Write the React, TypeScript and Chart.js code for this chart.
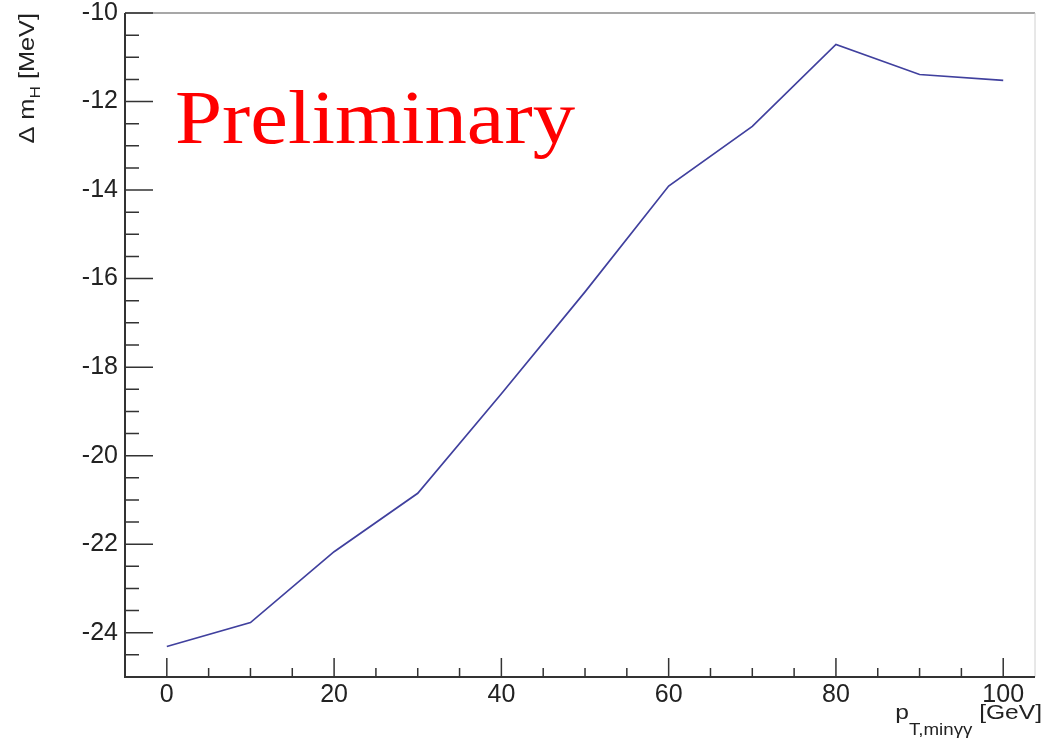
import React, { useEffect, useRef } from "react";
import { Chart, registerables } from "chart.js";

Chart.register(...registerables);

const ptMin = [0, 10, 20, 30, 40, 50, 60, 70, 80, 90, 100];
const deltaMH = [-24.31, -23.77, -22.17, -20.85, -18.6, -16.3, -13.91, -12.56, -10.71, -11.39, -11.52];
const xTickLabels = [0, 20, 40, 60, 80, 100];
const yTickLabels = [-24, -22, -20, -18, -16, -14, -12, -10];
const xMin = -5;
const xMax = 103.8;
const yMin = -25;
const yMax = -10;

const W = 1044;
const H = 738;
const LEFT = 125;
const TOP = 13;
const RIGHT = 1035;
const BOTTOM = 677;

const SANS = "'Liberation Sans', Arial, Helvetica, sans-serif";

function drawRich(
  ctx: CanvasRenderingContext2D,
  parts: { t: string; size: number; dy: number }[],
  stretch: number
) {
  let total = 0;
  const ws: number[] = [];
  for (const p of parts) {
    ctx.font = `${p.size}px ${SANS}`;
    const w = ctx.measureText(p.t).width;
    ws.push(w);
    total += w;
  }
  return {
    total: total * stretch,
    draw: (x0: number, y0: number) => {
      ctx.save();
      ctx.translate(x0, y0);
      ctx.scale(stretch, 1);
      let x = 0;
      parts.forEach((p, i) => {
        ctx.font = `${p.size}px ${SANS}`;
        ctx.fillText(p.t, x, p.dy);
        x += ws[i];
      });
      ctx.restore();
    },
  };
}

const rootPlugin = {
  id: "rootStyle",
  afterDraw(chart: any) {
    const ctx = chart.ctx as CanvasRenderingContext2D;
    const xs = chart.scales.x;
    const ys = chart.scales.y;
    const a = chart.chartArea;
    ctx.save();
    // frame top & right
    ctx.strokeStyle = "#8a8a8a";
    ctx.lineWidth = 1.5;
    ctx.beginPath();
    ctx.moveTo(a.left, a.top);
    ctx.lineTo(a.right, a.top);
    ctx.stroke();
    ctx.strokeStyle = "#d0d0d0";
    ctx.lineWidth = 1;
    ctx.beginPath();
    ctx.moveTo(a.right, a.top);
    ctx.lineTo(a.right, a.bottom);
    ctx.stroke();
    // axes
    ctx.strokeStyle = "#333";
    ctx.lineWidth = 2;
    ctx.beginPath();
    ctx.moveTo(a.left, a.top);
    ctx.lineTo(a.left, a.bottom);
    ctx.lineTo(a.right, a.bottom);
    ctx.stroke();
    // ticks
    ctx.lineWidth = 1.5;
    ctx.beginPath();
    for (let v = 0; v <= xMax; v += 5) {
      const px = xs.getPixelForValue(v);
      const len = v % 20 === 0 ? 19 : 9;
      ctx.moveTo(px, a.bottom);
      ctx.lineTo(px, a.bottom - len);
    }
    for (let v = yMin + 0.5; v <= yMax + 0.001; v += 0.5) {
      const py = ys.getPixelForValue(v);
      const len = Math.abs(v % 2) < 0.001 ? 28 : 14;
      ctx.moveTo(a.left, py);
      ctx.lineTo(a.left + len, py);
    }
    ctx.stroke();

    ctx.fillStyle = "#222";
    ctx.textBaseline = "alphabetic";
    ctx.textAlign = "left";

    // y title (rotated)
    {
      const r = drawRich(
        ctx,
        [
          { t: "\u0394 m", size: 22, dy: 0 },
          { t: "H", size: 15, dy: 6 },
          { t: " [MeV]", size: 22, dy: 0 },
        ],
        1.15
      );
      ctx.save();
      ctx.translate(34, TOP);
      ctx.rotate(-Math.PI / 2);
      r.draw(-r.total, 0);
      ctx.restore();
    }

    // x title
    {
      const r = drawRich(
        ctx,
        [
          { t: "p", size: 21, dy: 0 },
          { t: "T,min\u03b3\u03b3", size: 16, dy: 16 },
          { t: " [GeV]", size: 21, dy: 0 },
        ],
        1.17
      );
      r.draw(1042 - r.total, 719);
    }

    // Preliminary
    ctx.save();
    ctx.font = "77px 'Liberation Serif', 'Times New Roman', serif";
    ctx.fillStyle = "#ff0000";
    const tw = ctx.measureText("Preliminary").width;
    const sc = 400 / tw;
    ctx.translate(175, 143);
    ctx.scale(sc, 1);
    ctx.fillText("Preliminary", 0, 0);
    ctx.restore();

    ctx.restore();
  },
};

export default function App() {
  const ref = useRef<HTMLCanvasElement | null>(null);
  useEffect(() => {
    if (!ref.current) return;
    const chart = new Chart(ref.current, {
      type: "line",
      data: {
        datasets: [
          {
            data: ptMin.map((x, i) => ({ x, y: deltaMH[i] })),
            borderColor: "#40409e",
            borderWidth: 1.7,
            pointRadius: 0,
            fill: false,
            tension: 0,
          },
        ],
      },
      options: {
        animation: false,
        responsive: false,
        devicePixelRatio: 1,
        layout: { padding: { top: TOP, right: W - RIGHT, left: 0, bottom: 0 } },
        plugins: { legend: { display: false }, tooltip: { enabled: false } },
        scales: {
          x: {
            type: "linear",
            min: xMin,
            max: xMax,
            grid: { display: false, drawTicks: false },
            border: { display: false },
            afterBuildTicks: (s: any) => {
              s.ticks = xTickLabels.map((v) => ({ value: v }));
            },
            afterFit: (s: any) => {
              s.height = H - BOTTOM;
              s.paddingLeft = 0;
              s.paddingRight = 0;
            },
            ticks: {
              font: { family: SANS, size: 25 },
              color: "#222",
              padding: 3,
              maxRotation: 0,
              autoSkip: false,
            },
          },
          y: {
            type: "linear",
            min: yMin,
            max: yMax,
            grid: { display: false, drawTicks: false },
            border: { display: false },
            afterBuildTicks: (s: any) => {
              s.ticks = yTickLabels.map((v) => ({ value: v }));
            },
            afterFit: (s: any) => {
              s.width = LEFT;
              s.paddingTop = 0;
              s.paddingBottom = 0;
            },
            ticks: {
              font: { family: SANS, size: 25 },
              color: "#222",
              padding: 7,
              autoSkip: false,
            },
          },
        },
      },
      plugins: [rootPlugin],
    } as any);
    return () => chart.destroy();
  }, []);
  return (
    <div style={{ position: "absolute", left: 0, top: 0, width: W, height: H, background: "#fff" }}>
      <canvas ref={ref} width={W} height={H} style={{ display: "block" }} />
    </div>
  );
}
